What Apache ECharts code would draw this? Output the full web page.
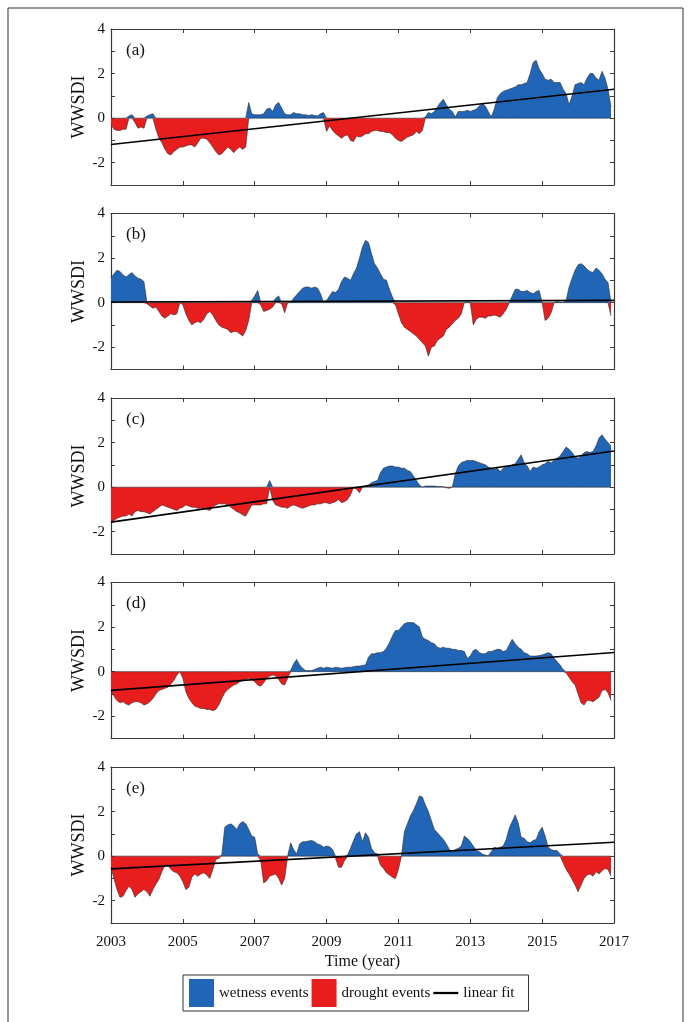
<!DOCTYPE html>
<html>
<head>
<meta charset="utf-8">
<title>WWSDI</title>
<script src="https://cdn.jsdelivr.net/npm/echarts@6.0.0/dist/echarts.min.js"></script>
<style>
  html, body { margin: 0; padding: 0; background: #fff; }
  #chart { width: 689px; height: 1022px; }
</style>
</head>
<body>
<div id="chart"></div>
<script>
// monthly WWSDI values, Jan 2003 .. Dec 2016 (168 months per panel)
var wwsdiA = [
  -0.3, -0.5, -0.55, -0.55, -0.5, -0.5, 0.1, 0.15, -0.2, -0.45, -0.4, -0.45,
  0.1, 0.15, 0.2, -0.5, -0.9, -1.1, -1.4, -1.6, -1.65, -1.5, -1.4, -1.3,
  -1.3, -1.25, -1.2, -1.2, -1.3, -1.1, -0.9, -0.9, -0.95, -1.1, -1.3, -1.5,
  -1.65, -1.6, -1.45, -1.3, -1.4, -1.55, -1.4, -1.3, -1.4, -1.3, 0.7, 0.2,
  0.15, 0.15, 0.15, 0.2, 0.4, 0.45, 0.3, 0.6, 0.7, 0.45, 0.2, 0.15,
  0.15, 0.25, 0.2, 0.2, 0.15, 0.15, 0.12, 0.15, 0.12, 0.1, 0.2, 0.25,
  -0.6, -0.35, -0.55, -0.7, -0.8, -0.9, -0.8, -0.75, -1.0, -1.05, -0.8, -0.85,
  -0.8, -0.7, -0.7, -0.6, -0.55, -0.55, -0.6, -0.6, -0.65, -0.65, -0.75, -0.9,
  -1.0, -1.05, -0.95, -0.85, -0.8, -0.75, -0.6, -0.7, -0.55, 0.05, 0.25, 0.2,
  0.3, 0.5, 0.7, 0.85, 0.6, 0.4, 0.3, 0.05, 0.3, 0.3, 0.3, 0.35,
  0.3, 0.35, 0.4, 0.55, 0.65, 0.55, 0.3, 0.05, 0.4, 0.9, 1.1, 1.2,
  1.25, 1.3, 1.35, 1.4, 1.5, 1.5, 1.55, 1.6, 2.0, 2.5, 2.6, 2.2,
  2.0, 1.75, 1.7, 1.75, 1.6, 1.6, 1.6, 1.3, 1.1, 0.6, 1.0, 1.5,
  1.55, 1.6, 1.5, 1.8, 2.0, 2.0, 1.8, 1.7, 2.1, 1.8, 1.3, 0.5
];
var wwsdiB = [
  1.1, 1.3, 1.45, 1.4, 1.25, 1.15, 1.25, 1.35, 1.2, 1.1, 1.05, 0.95,
  -0.05, -0.15, -0.25, -0.2, -0.4, -0.6, -0.7, -0.6, -0.5, -0.55, -0.5, 0.0,
  -0.1, -0.5, -0.8, -1.0, -0.9, -0.85, -0.9, -0.75, -0.5, -0.4, -0.55, -0.8,
  -1.0, -1.1, -1.15, -1.2, -1.35, -1.3, -1.3, -1.4, -1.5, -1.25, -0.8, 0.1,
  0.3, 0.55, -0.1, -0.4, -0.35, -0.3, -0.2, 0.2, 0.3, -0.05, -0.45, 0.0,
  0.0, 0.2, 0.35, 0.5, 0.65, 0.7, 0.7, 0.65, 0.7, 0.65, 0.4, 0.0,
  0.1, 0.3, 0.5, 0.45, 0.6, 0.95, 1.15, 1.1, 1.0, 1.3, 1.55, 2.0,
  2.5, 2.8, 2.7, 2.2, 1.75, 1.55, 1.3, 1.05, 1.0, 0.6, 0.25, -0.1,
  -0.5, -0.9, -1.1, -1.2, -1.3, -1.4, -1.5, -1.65, -1.8, -1.95, -2.4, -2.0,
  -1.95, -1.7, -1.6, -1.5, -1.2, -1.1, -0.95, -0.8, -0.7, -0.5, 0.0, 0.02,
  0.02, -1.0, -0.75, -0.65, -0.65, -0.7, -0.6, -0.6, -0.55, -0.6, -0.65, -0.5,
  -0.3, 0.0, 0.3, 0.6, 0.6, 0.5, 0.5, 0.55, 0.45, 0.4, 0.5, 0.55,
  0.0, -0.8, -0.7, -0.45, 0.0, 0.05, 0.02, 0.0, 0.1, 0.7, 1.1, 1.45,
  1.7, 1.75, 1.65, 1.5, 1.4, 1.35, 1.55, 1.45, 1.3, 1.05, 0.9, -0.6
];
var wwsdiC = [
  -1.55, -1.5, -1.4, -1.35, -1.3, -1.3, -1.2, -1.3, -1.1, -1.05, -1.1, -1.1,
  -1.15, -1.2, -1.1, -1.0, -0.9, -0.8, -0.85, -0.9, -0.95, -1.0, -1.05, -0.95,
  -0.9, -0.8, -0.85, -0.9, -0.9, -0.95, -0.95, -0.95, -1.0, -1.05, -0.9, -0.8,
  -0.75, -0.75, -0.75, -0.8, -0.9, -1.0, -1.1, -1.15, -1.25, -1.3, -1.05, -0.8,
  -0.8, -0.8, -0.8, -0.75, -0.75, 0.3, -0.6, -0.8, -0.85, -0.9, -0.9, -0.95,
  -0.85, -0.8, -0.85, -0.9, -0.95, -0.9, -0.85, -0.8, -0.8, -0.75, -0.75, -0.7,
  -0.7, -0.75, -0.7, -0.65, -0.55, -0.7, -0.65, -0.55, -0.35, 0.0, -0.1, -0.25,
  0.0, 0.05, 0.1, 0.2, 0.25, 0.3, 0.65, 0.85, 0.9, 0.95, 0.95, 0.9,
  0.9, 0.85, 0.85, 0.75, 0.7, 0.5, 0.3, 0.1, 0.0, 0.05, 0.05, 0.05,
  0.05, 0.03, 0.03, 0.02, -0.03, -0.05, 0.0, 0.6, 0.95, 1.1, 1.15, 1.2,
  1.2, 1.2, 1.15, 1.1, 1.05, 1.0, 0.9, 0.85, 0.8, 0.85, 0.7, 0.85,
  0.9, 0.95, 1.0, 1.05, 1.25, 1.45, 1.1, 0.95, 0.7, 0.9, 0.85, 0.9,
  1.0, 1.05, 1.15, 1.1, 1.2, 1.3, 1.4, 1.6, 1.8, 1.7, 1.55, 1.35,
  1.3, 1.4, 1.55, 1.6, 1.55, 1.6, 1.85, 2.2, 2.35, 2.15, 2.0, 1.85
];
var wwsdiD = [
  -0.85, -1.1, -1.3, -1.4, -1.35, -1.45, -1.5, -1.4, -1.35, -1.35, -1.4, -1.5,
  -1.45, -1.35, -1.2, -1.0, -0.85, -0.8, -0.75, -0.7, -0.55, -0.4, -0.15, 0.0,
  -0.3, -0.9, -1.2, -1.4, -1.55, -1.6, -1.65, -1.65, -1.7, -1.7, -1.75, -1.7,
  -1.5, -1.2, -0.95, -0.8, -0.7, -0.6, -0.55, -0.45, -0.4, -0.35, -0.3, -0.35,
  -0.45, -0.6, -0.65, -0.5, -0.3, -0.2, -0.15, -0.2, -0.35, -0.55, -0.6, -0.3,
  0.05, 0.35, 0.55, 0.3, 0.15, 0.05, 0.05, 0.05, 0.1, 0.15, 0.2, 0.15,
  0.2, 0.18, 0.15, 0.2, 0.18, 0.15, 0.18, 0.2, 0.2, 0.22, 0.25, 0.25,
  0.28, 0.3, 0.65, 0.8, 0.8, 0.85, 0.85, 0.9, 1.05, 1.3, 1.6, 1.85,
  1.85, 2.0, 2.15, 2.2, 2.2, 2.2, 2.1, 2.0, 1.55, 1.45, 1.4, 1.3,
  1.25, 1.1, 1.05, 1.1, 1.05, 1.05, 1.0, 1.0, 0.95, 0.95, 0.9, 0.6,
  0.7, 0.95, 1.0, 0.85, 0.8, 0.8, 0.9, 0.9, 0.95, 1.0, 1.0, 0.9,
  0.95, 1.2, 1.45, 1.25, 1.1, 1.0, 0.85, 0.8, 0.7, 0.7, 0.7, 0.72,
  0.75, 0.8, 0.85, 0.8, 0.6, 0.45, 0.3, 0.1, -0.05, -0.25, -0.45, -0.6,
  -1.0, -1.4, -1.5, -1.3, -1.3, -1.35, -1.25, -1.15, -0.85, -0.8, -0.95, -1.3
];
var wwsdiE = [
  -0.5, -1.0, -1.5, -1.85, -1.8, -1.55, -1.35, -1.5, -1.85, -1.7, -1.6, -1.5,
  -1.6, -1.8, -1.5, -1.25, -1.05, -0.7, -0.4, -0.4, -0.6, -0.7, -0.75, -0.9,
  -1.15, -1.5, -1.4, -0.95, -0.8, -0.9, -0.8, -0.75, -0.85, -1.0, -0.6, -0.15,
  -0.1, 0.05, 1.3, 1.4, 1.45, 1.35, 1.2, 1.45, 1.55, 1.45, 1.2, 0.9,
  0.85, 0.1, -0.2, -1.2, -1.1, -0.9, -0.85, -0.8, -1.0, -1.3, -1.0, 0.0,
  0.6, 0.3, 0.1, 0.55, 0.65, 0.65, 0.68, 0.7, 0.65, 0.55, 0.5, 0.4,
  0.45, 0.42, 0.3, -0.1, -0.5, -0.5, -0.2, 0.05, 0.35, 0.7, 1.0, 1.1,
  0.65, 1.05, 0.85, 0.35, 0.15, 0.1, -0.4, -0.55, -0.75, -0.85, -0.95, -1.0,
  -0.6, 0.0, 1.1, 1.45, 1.8, 2.05, 2.35, 2.7, 2.65, 2.3, 2.0, 1.6,
  1.2, 1.05, 0.9, 0.75, 0.55, 0.3, 0.2, 0.3, 0.35, 0.45, 0.9, 0.8,
  0.65, 0.45, 0.25, 0.2, 0.1, 0.05, 0.02, 0.2, 0.4, 0.35, 0.4, 0.45,
  0.75, 1.25, 1.55, 1.85, 1.5, 0.85, 0.8, 0.65, 0.6, 0.7, 0.75, 1.1,
  1.3, 0.9, 0.4, 0.3, 0.25, 0.25, 0.1, -0.3, -0.6, -0.8, -1.05, -1.3,
  -1.6, -1.3, -1.0, -0.85, -0.8, -0.9, -0.7, -0.8, -0.65, -0.55, -0.6, -0.9
];

// linear fit: value at 2003 and at 2017
var fitA = [-1.18, 1.30];
var fitB = [0.03, 0.10];
var fitC = [-1.57, 1.62];
var fitD = [-0.84, 0.86];
var fitE = [-0.57, 0.62];

var panelLabels = ['(a)', '(b)', '(c)', '(d)', '(e)'];
var yearTicks = [2003, 2005, 2007, 2009, 2011, 2013, 2015, 2017];
var startYear = 2003;
var yearSpan = 14;

var panels = [
  {values: wwsdiA, fit: fitA},
  {values: wwsdiB, fit: fitB},
  {values: wwsdiC, fit: fitC},
  {values: wwsdiD, fit: fitD},
  {values: wwsdiE, fit: fitE}
];

var BLUE = '#2166b6';
var RED = '#e81e1e';
var EDGE = '#2a2a2a';
var AXIS = '#3a3a3a';
var FONT = 'Liberation Serif';

var grids = [], xAxes = [], yAxes = [], series = [], titles = [];

panels.forEach(function (p, i) {
  var top = 29 + i * 184.5;
  var isLast = i === panels.length - 1;
  grids.push({left: 111, width: 503, top: top, height: 156});
  titles.push({
    text: panelLabels[i], left: 121, top: top + 8,
    textStyle: {fontFamily: FONT, fontSize: 17, fontWeight: 'normal', color: '#111'}
  });

  var xBase = {
    type: 'value', gridIndex: i, min: 0, max: yearSpan, interval: 2,
    splitLine: {show: false},
    axisLine: {show: true, onZero: false, lineStyle: {color: AXIS, width: 1.2}},
    axisTick: {show: true, inside: true, length: 4, lineStyle: {color: AXIS}}
  };
  // bottom
  xAxes.push(Object.assign({}, xBase, {
    position: 'bottom',
    axisLabel: {
      show: isLast, margin: 12, fontFamily: FONT, fontSize: 15, color: '#111',
      formatter: function (v) { return yearTicks.indexOf(v + startYear) >= 0 ? String(v + startYear) : ''; }
    },
    name: isLast ? 'Time (year)' : '',
    nameLocation: 'middle', nameGap: 31,
    nameTextStyle: {fontFamily: FONT, fontSize: 16, color: '#111'}
  }));
  // top
  xAxes.push(Object.assign({}, xBase, {position: 'top', axisLabel: {show: false}}));

  var yBase = {
    type: 'value', gridIndex: i, min: -3, max: 4, interval: 1,
    splitLine: {show: false},
    axisLine: {show: true, onZero: false, lineStyle: {color: AXIS, width: 1.2}},
    axisTick: {show: true, inside: true, length: 4, lineStyle: {color: AXIS}}
  };
  yAxes.push(Object.assign({}, yBase, {
    position: 'left',
    axisLabel: {
      margin: 6, fontFamily: FONT, fontSize: 15, color: '#111',
      formatter: function (v) { return v % 2 === 0 ? String(v) : ''; }
    },
    name: 'WWSDI', nameLocation: 'middle', nameGap: 23, nameMoveOverlap: false,
    nameTextStyle: {fontFamily: FONT, fontSize: 18, color: '#111'}
  }));
  yAxes.push(Object.assign({}, yBase, {position: 'right', axisLabel: {show: false}}));

  // split into wet (>0) and dry (<0) parts
  var wet = p.values.map(function (v, m) { return [m / 12, Math.max(v, 0)]; });
  var dry = p.values.map(function (v, m) { return [m / 12, Math.min(v, 0)]; });

  series.push({
    name: 'wetness events', type: 'line', xAxisIndex: 2 * i, yAxisIndex: 2 * i,
    data: wet, showSymbol: false, symbol: 'none', silent: true,
    itemStyle: {color: BLUE},
    lineStyle: {color: EDGE, width: 0.6},
    areaStyle: {color: BLUE, opacity: 1, origin: 0},
    z: 2
  });
  series.push({
    name: 'drought events', type: 'line', xAxisIndex: 2 * i, yAxisIndex: 2 * i,
    data: dry, showSymbol: false, symbol: 'none', silent: true,
    itemStyle: {color: RED},
    lineStyle: {color: EDGE, width: 0.6},
    areaStyle: {color: RED, opacity: 1, origin: 0},
    z: 2
  });
  series.push({
    name: 'linear fit', type: 'line', xAxisIndex: 2 * i, yAxisIndex: 2 * i,
    data: [[0, p.fit[0]], [yearSpan, p.fit[1]]],
    showSymbol: false, symbol: 'none', silent: true,
    itemStyle: {color: '#000'},
    lineStyle: {color: '#000', width: 1.6},
    z: 5
  });
});

var option = {
  animation: false,
  backgroundColor: '#fff',
  title: titles,
  grid: grids,
  xAxis: xAxes,
  yAxis: yAxes,
  series: series,
  legend: {
    left: 183, top: 975,
    itemWidth: 25, itemHeight: 28, itemGap: 3,
    padding: [4, 14, 4, 6],
    borderColor: '#333', borderWidth: 1,
    selectedMode: false,
    textStyle: {fontFamily: FONT, fontSize: 15, color: '#111'},
    data: [
      {name: 'wetness events', icon: 'rect', itemStyle: {color: BLUE, borderWidth: 0}},
      {name: 'drought events', icon: 'rect', itemStyle: {color: RED, borderWidth: 0}},
      {name: 'linear fit', icon: 'path://M0,0H22V2H0Z', itemStyle: {color: '#000', borderWidth: 0}}
    ]
  },
  graphic: [{
    type: 'rect', silent: true,
    shape: {x: 8, y: 8, width: 675, height: 1040},
    style: {fill: 'none', stroke: '#333', lineWidth: 1}
  }]
};

var chart = echarts.init(document.getElementById('chart'), null, {renderer: 'canvas'});
chart.setOption(option);
</script>
</body>
</html>
